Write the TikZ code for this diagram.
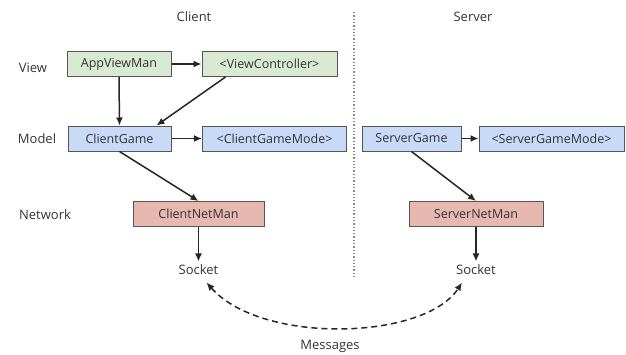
\documentclass[tikz,border=0pt]{standalone}
\usepackage{fontspec}
\setmainfont{Open Sans}
\usetikzlibrary{arrows.meta}
\definecolor{gfill}{HTML}{D9EAD3}
\definecolor{bfill}{HTML}{C9DAF8}
\definecolor{rfill}{HTML}{E6B8AF}
\definecolor{bord}{HTML}{555555}
\definecolor{txt}{HTML}{333333}
\tikzset{
  box/.style={draw=bord, line width=1pt, minimum height=25pt, inner sep=0pt, font=\fontsize{12.5}{14}\selectfont, text=txt},
  gbox/.style={box, fill=gfill},
  bbox/.style={box, fill=bfill},
  rbox/.style={box, fill=rfill},
  lbl/.style={font=\fontsize{13}{15}\selectfont, text=txt},
  arr/.style={-{Latex[length=8pt,width=7pt]}, line width=1.5pt, black!85},
}
\begin{document}
\begin{tikzpicture}[x=1pt,y=-1pt]
\useasboundingbox (0,0) rectangle (626,354);
\node[lbl] (client) at (194,17) {Client};
\node[lbl] (server) at (473,17) {Server};
\node[lbl] (view) at (33,68) {View};
\node[lbl] (model) at (37,139) {Model};
\node[lbl] (network) at (45,215) {Network};
\coordinate (dtop) at (354,12);
\coordinate (dbot) at (354,277);
\draw[bord!70, line width=1.3pt, dotted] (dtop) -- (dbot);
\node[gbox, minimum width=104pt] (avm) at (119,64) {AppViewMan};
\node[gbox, minimum width=135pt] (vc) at (269.5,64) {<ViewController>};
\node[bbox, minimum width=103pt] (cg) at (119.5,138.5) {ClientGame};
\node[bbox, minimum width=144pt] (cgm) at (274.5,138.5) {<ClientGameMode>};
\node[rbox, minimum width=131pt] (cnm) at (198.5,214) {ClientNetMan};
\node[lbl] (csock) at (198.5,270) {Socket};
\node[bbox, minimum width=99pt] (sg) at (411.5,138.5) {ServerGame};
\node[bbox, minimum width=145pt] (sgm) at (551.5,138.5) {<ServerGameMode>};
\node[rbox, minimum width=134pt] (snm) at (476,214) {ServerNetMan};
\node[lbl] (ssock) at (476,270) {Socket};
\node[lbl] (msg) at (330,346) {Messages};
\draw[arr] (avm) -- (vc);
\draw[arr] (avm.south) -- (cg.north);
\draw[arr] (vc.south west) ++(24,0) -- ([xshift=37pt]cg.north);
\draw[arr] (cg.south) -- (cnm.north);
\draw[arr] (cg) -- (cgm);
\draw[arr] (cnm) -- (csock);
\draw[arr] (sg) -- (sgm);
\draw[arr] (sg.south) -- (snm.north);
\draw[arr] (snm) -- (ssock);
\draw[{Latex[length=8pt,width=7pt]}-{Latex[length=8pt,width=7pt]}, line width=1.5pt, black!85, dash pattern=on 6pt off 4pt]
  ([xshift=8pt,yshift=-4pt]csock.south) .. controls (262,345) and (425,340) .. ([xshift=-14pt,yshift=-4pt]ssock.south);
\end{tikzpicture}
\end{document}
